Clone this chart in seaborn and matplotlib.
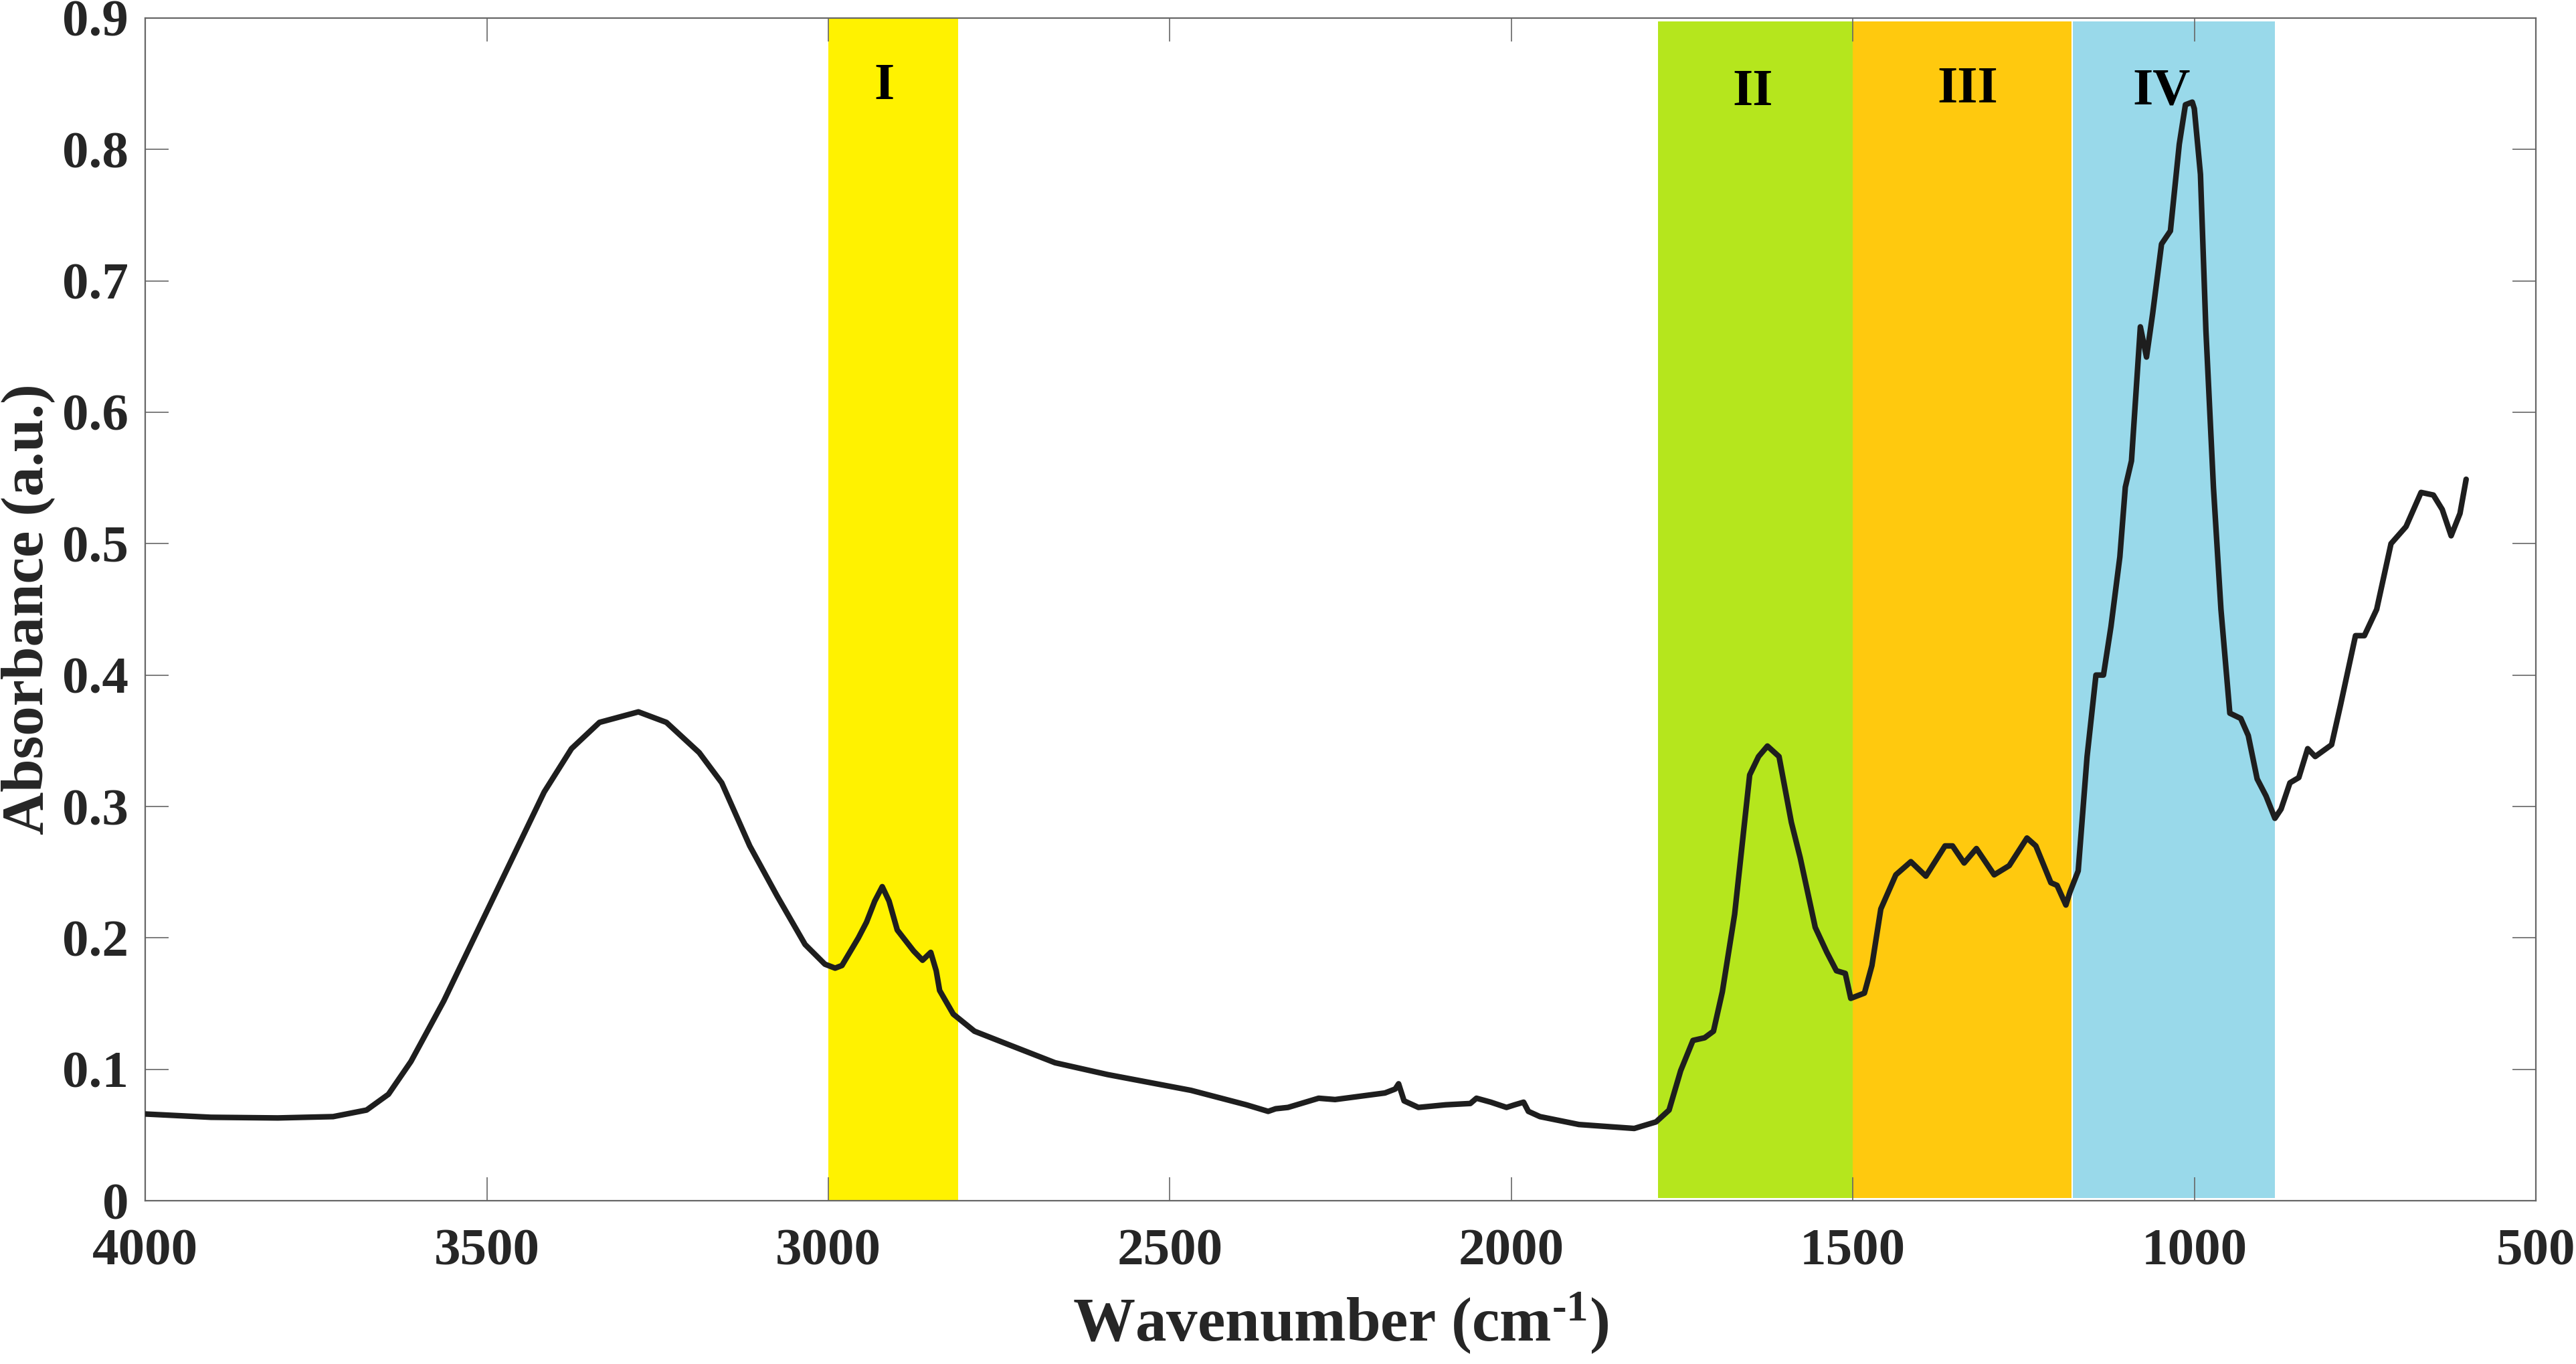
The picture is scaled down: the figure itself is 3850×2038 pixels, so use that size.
import numpy as np
import pandas as pd
import matplotlib
matplotlib.use("Agg")
import matplotlib.pyplot as plt
import seaborn as sns

# ========================
# FTIR spectrum
# ========================
wavenumber = [
    4000, 3904, 3806, 3725, 3676, 3644, 3611, 3563, 3514, 3465, 3416, 3376,
    3335, 3278, 3237, 3189, 3156, 3115, 3075, 3034, 3005, 2990, 2980, 2956,
    2944, 2932, 2921, 2911, 2899, 2875, 2862, 2850, 2842, 2837, 2817, 2786,
    2737, 2668, 2591, 2469, 2388, 2356, 2345, 2327, 2282, 2258, 2185, 2170,
    2165, 2157, 2136, 2096, 2060, 2051, 2030, 2007, 1995, 1982, 1975, 1958,
    1901, 1820, 1788, 1769, 1752, 1734, 1717, 1704, 1691, 1673, 1651, 1638,
    1625, 1608, 1590, 1577, 1555, 1538, 1524, 1511, 1503, 1483, 1472, 1459,
    1437, 1415, 1393, 1365, 1354, 1337, 1319, 1293, 1271, 1245, 1232, 1210,
    1201, 1188, 1182, 1170, 1157, 1144, 1133, 1122, 1109, 1101, 1092, 1079,
    1070, 1061, 1048, 1035, 1022, 1013, 1003, 1000, 991, 983, 972, 961,
    948, 932, 921, 908, 895, 882, 873, 860, 847, 834, 823, 799,
    786, 764, 751, 733, 712, 690, 668, 650, 637, 624, 611, 602,
]
absorbance = [
    0.066, 0.0635, 0.063, 0.064, 0.069, 0.081, 0.106, 0.152, 0.205, 0.258, 0.311, 0.344,
    0.364, 0.372, 0.364, 0.341, 0.318, 0.270, 0.232, 0.195, 0.180, 0.177, 0.179, 0.200,
    0.212, 0.228, 0.239, 0.228, 0.206, 0.190, 0.183, 0.189, 0.175, 0.160, 0.142, 0.129,
    0.119, 0.105, 0.096, 0.084, 0.073, 0.068, 0.070, 0.071, 0.078, 0.077, 0.082, 0.085,
    0.089, 0.076, 0.071, 0.073, 0.074, 0.078, 0.075, 0.071, 0.073, 0.075, 0.068, 0.064,
    0.058, 0.055, 0.060, 0.069, 0.099, 0.122, 0.124, 0.129, 0.159, 0.218, 0.324, 0.338,
    0.346, 0.338, 0.288, 0.261, 0.208, 0.189, 0.175, 0.173, 0.154, 0.158, 0.179, 0.222,
    0.248, 0.258, 0.247, 0.270, 0.270, 0.257, 0.268, 0.248, 0.255, 0.276, 0.270, 0.242,
    0.240, 0.225, 0.235, 0.251, 0.338, 0.400, 0.400, 0.437, 0.490, 0.543, 0.563, 0.665,
    0.642, 0.675, 0.728, 0.738, 0.804, 0.834, 0.836, 0.831, 0.781, 0.662, 0.543, 0.450,
    0.371, 0.367, 0.354, 0.321, 0.308, 0.291, 0.298, 0.318, 0.322, 0.344, 0.338, 0.347,
    0.377, 0.430, 0.430, 0.450, 0.500, 0.513, 0.539, 0.537, 0.526, 0.506, 0.523, 0.549,
]

# shaded regions
region_names = ["I", "II", "III", "IV"]
region_start = [3000, 1785, 1500, 1178]
region_end = [2810, 1500, 1180, 882]
region_colors = ["#FFF200", "#B5E61D", "#FFC90E", "#99D9EA"]
label_x = [2918, 1646, 1332, 1048]
label_y = [0.848, 0.843, 0.845, 0.844]

x_ticks = [4000, 3500, 3000, 2500, 2000, 1500, 1000, 500]
y_ticks = [0, 0.1, 0.2, 0.3, 0.4, 0.5, 0.6, 0.7, 0.8, 0.9]
y_ticklabels = ["0", "0.1", "0.2", "0.3", "0.4", "0.5", "0.6", "0.7", "0.8", "0.9"]

df = pd.DataFrame({"wavenumber": wavenumber, "absorbance": absorbance})

# ========================
# Style
# ========================
sns.set_theme(style="white")
plt.rcParams["font.family"] = ["Liberation Serif", "DejaVu Serif"]
plt.rcParams["font.weight"] = "bold"
plt.rcParams["mathtext.fontset"] = "custom"
plt.rcParams["mathtext.rm"] = "Liberation Serif:bold"
plt.rcParams["mathtext.it"] = "Liberation Serif:bold"
plt.rcParams["mathtext.bf"] = "Liberation Serif:bold"

fig, ax = plt.subplots(figsize=(38.5, 20.38), dpi=100)
fig.subplots_adjust(left=0.0564, right=0.9844, bottom=0.1197, top=0.9868)

for i, name in enumerate(region_names):
    if i == 0:
        ax.axvspan(region_start[i], region_end[i], color=region_colors[i], lw=0, zorder=0)
    else:
        ax.axvspan(region_start[i], region_end[i], ymin=0.0025, ymax=0.9972,
                   color=region_colors[i], lw=0, zorder=0)
    ax.text(label_x[i], label_y[i], name, ha="center", va="center",
            fontsize=56, fontweight="bold", color="black", zorder=4)

sns.lineplot(data=df, x="wavenumber", y="absorbance", sort=False, estimator=None,
             color="#1e1e1e", lw=6, ax=ax, zorder=3)

ax.set_xlim(4000, 500)
ax.set_ylim(0, 0.9)
ax.set_xticks(x_ticks)
ax.set_xticklabels([str(t) for t in x_ticks])
ax.set_yticks(y_ticks)
ax.set_yticklabels(y_ticklabels)

ax.tick_params(axis="both", direction="in", length=25, width=1.2, color="#666666",
               labelsize=57, labelcolor="#262626", bottom=True, left=True,
               top=True, right=True)
ax.tick_params(axis="x", pad=30)
ax.tick_params(axis="y", pad=18)
for side in ["left", "right", "top", "bottom"]:
    ax.spines[side].set_color("#666666")
    ax.spines[side].set_linewidth(1.6)

ax.set_xlabel(r"Wavenumber (cm$^{\text{-1}}$)", fontsize=67, fontweight="bold",
              color="#262626", labelpad=16)
ax.set_ylabel("Absorbance (a.u.)", fontsize=64, fontweight="bold",
              color="#262626", labelpad=8)

plt.savefig("out.png", dpi=100)
plt.close()
